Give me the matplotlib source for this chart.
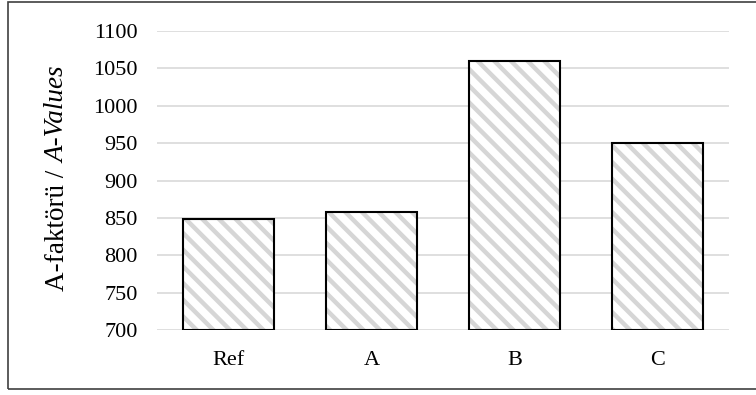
import matplotlib
matplotlib.use("Agg")
from matplotlib import pyplot as plt
from matplotlib.patches import Rectangle

# data
categories = ["Ref", "A", "B", "C"]
values = [848, 858, 1060, 950]
y_ticks = [700, 750, 800, 850, 900, 950, 1000, 1050, 1100]
y_min, y_max = 700, 1100

plt.rcParams['font.family'] = ['Liberation Serif', 'DejaVu Serif']
plt.rcParams['hatch.linewidth'] = 3.2

W, H = 756, 395
fig = plt.figure(figsize=(W / 100, H / 100), dpi=100)
ax = fig.add_axes([157 / W, 1 - 330 / H, 572 / W, 299 / H])

x = list(range(len(categories)))
heights = [v - y_min for v in values]
# hatch layer first, then the black outline over it
ax.bar(x, heights, bottom=y_min, width=0.64,
       color="white", edgecolor="#d6d6d6", hatch="\\\\", linewidth=0, zorder=2)
ax.bar(x, heights, bottom=y_min, width=0.64,
       color="none", edgecolor="black", linewidth=1.5, zorder=3)

ax.set_xlim(-0.5, len(categories) - 0.5)
ax.set_ylim(y_min, y_max)
ax.set_yticks(y_ticks)
ax.set_xticks(x)
ax.set_xticklabels(categories)
ax.tick_params(length=0, labelsize=16, colors="black")
ax.tick_params(axis="y", pad=14)
ax.tick_params(axis="x", pad=15)
ax.grid(axis="y", color="#d9d9d9", linewidth=1.2, zorder=0)
ax.set_axisbelow(True)
for s in ax.spines.values():
    s.set_visible(False)

# y label: plain part then italic part, stacked bottom to top
t1 = fig.text(58 / W, 1 - 291 / H, "A-faktörü / ", rotation=90, fontsize=19.5,
              ha="center", va="bottom")
fig.canvas.draw()
bb = t1.get_window_extent()
fig.text(58 / W, bb.y1 / H, "A-Values", rotation=90, fontsize=19.5,
         style="italic", ha="center", va="bottom")

# outer chart frame (right edge falls outside the picture)
fig.patches.append(Rectangle((8 / W, 1 - 389 / H), 760 / W, 387 / H,
                             transform=fig.transFigure, fill=False,
                             edgecolor="#404040", linewidth=1.2))

fig.savefig("out.png", dpi=100)
